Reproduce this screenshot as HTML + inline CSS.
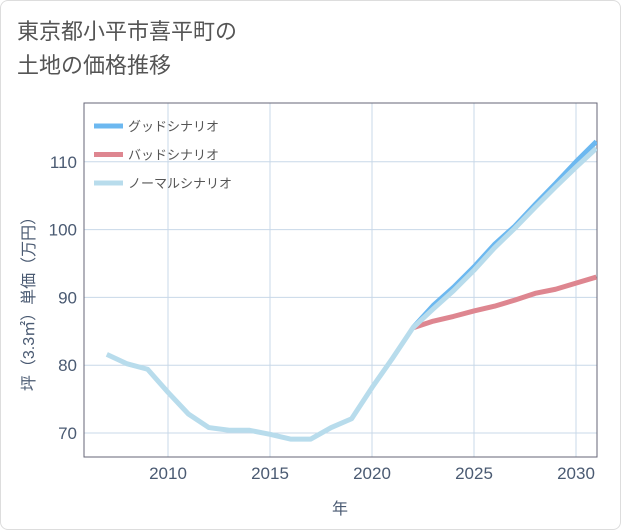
<!DOCTYPE html>
<html><head><meta charset="utf-8"><style>
body{margin:0;background:#fff;font-family:"Liberation Sans","Noto Sans CJK JP",sans-serif;}
#wrap{position:relative;width:619px;height:528px;border:1px solid #ddd;border-radius:8px;overflow:hidden;background:#fff;}
#title{position:absolute;left:16px;top:14px;font-size:22px;line-height:34px;color:#555;}
</style></head><body>
<div id="wrap">
<div id="title">東京都小平市喜平町の<br>土地の価格推移</div>
<svg id="chart" width="621" height="530" style="position:absolute;left:-1px;top:-1px"></svg>
</div>
<script>
const years=[2007,2008,2009,2010,2011,2012,2013,2014,2015,2016,2017,2018,2019,2020,2021,2022,2023,2024,2025,2026,2027,2028,2029,2030,2031];
const normalValues=[81.6,80.2,79.4,76,72.8,70.8,70.4,70.4,69.8,69.1,69.1,70.8,72.1,76.7,81,85.5,88.3,91,94,97.3,100.2,103.3,106.3,109.2,112];
const goodYears=[2022,2023,2024,2025,2026,2027,2028,2029,2030,2031];
const goodValues=[85.5,88.8,91.5,94.5,97.8,100.5,103.7,106.8,110,113];
const badYears=[2022,2023,2024,2025,2026,2027,2028,2029,2030,2031];
const badValues=[85.5,86.5,87.2,88,88.7,89.6,90.6,91.2,92.1,93];
const xTicks=[2010,2015,2020,2025,2030];
const yTicks=[70,80,90,100,110];
const L=84,R=597,T=103,B=457;
const x=v=>168+(v-2010)*20.4;
const y=v=>433-(v-70)*6.78;
const svg=document.getElementById('chart');
const NS='http://www.w3.org/2000/svg';
function mk(t,a){const e=document.createElementNS(NS,t);for(const k in a)e.setAttribute(k,a[k]);svg.appendChild(e);return e;}
xTicks.forEach(v=>{const l=mk('line',{x1:x(v),x2:x(v),y1:T,y2:B,stroke:'#c8d8e8','stroke-width':1});


const t=mk('text',{x:x(v),y:479,'text-anchor':'middle','font-size':17,fill:'#4a5a72'});t.textContent=v;

});
yTicks.forEach(v=>{const l=mk('line',{x1:L,x2:R,y1:y(v),y2:y(v),stroke:'#c8d8e8','stroke-width':1});


const t=mk('text',{x:77,y:y(v)+6,'text-anchor':'end','font-size':17,fill:'#4a5a72'});t.textContent=v;

});
const fr=mk('rect',{x:L,y:T,width:R-L,height:B-T,fill:'none',stroke:'#667',"stroke-width":1});


function series(xs,vs,c,name){const p=mk('polyline',{points:xs.map((v,i)=>x(v)+','+y(vs[i])).join(' '),fill:'none',stroke:c,'stroke-width':5,'stroke-linejoin':'round','clip-path':'url(#clip)'});

}
const cp=mk('clipPath',{id:'clip'});const cr=document.createElementNS(NS,'rect');cr.setAttribute('x',L);cr.setAttribute('y',T);cr.setAttribute('width',R-L);cr.setAttribute('height',B-T);cp.appendChild(cr);
series(goodYears,goodValues,'#6cb8f0','good-scenario-line');
series(badYears,badValues,'#de8690','bad-scenario-line');
series(years,normalValues,'#b8dcec','normal-scenario-line');
const leg=[['グッドシナリオ','#6cb8f0'],['バッドシナリオ','#de8690'],['ノーマルシナリオ','#b8dcec']];
leg.forEach((d,i)=>{const yy=126+i*28.5;
const l=mk('line',{x1:94,x2:123,y1:yy,y2:yy,stroke:d[1],'stroke-width':5});


const t=mk('text',{x:128,y:yy+5,'font-size':13,fill:'#555'});t.textContent=d[0];

});
const xt=mk('text',{x:340,y:514,'text-anchor':'middle','font-size':16,fill:'#4a5a72'});xt.textContent='年';


const yt=mk('text',{x:0,y:0,'text-anchor':'middle','font-size':16,fill:'#4a5a72',transform:'translate(34,300) rotate(-90)'});yt.textContent='坪（3.3㎡）単価（万円）';


</script>
</body></html>
